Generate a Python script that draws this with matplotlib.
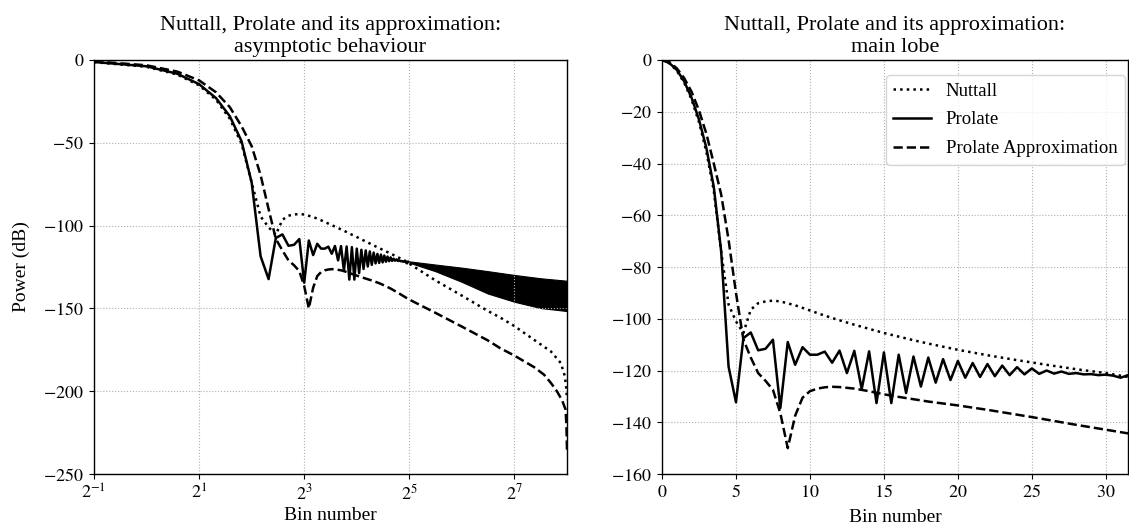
import numpy as np
import matplotlib
matplotlib.use('Agg')
import matplotlib.pyplot as plt
from matplotlib.ticker import NullLocator, FuncFormatter

plt.rcParams['font.family'] = ['Liberation Serif', 'DejaVu Serif']
plt.rcParams['mathtext.fontset'] = 'stix'
plt.rcParams['font.size'] = 13

# prolate window spectrum, half-bin resolution (main lobe + first side lobes)
prolate_bins = [0, 0.5, 1, 1.5, 2, 2.5, 3, 3.5, 4, 4.5, 5, 5.5, 6, 6.5, 7, 7.5,
                8, 8.5, 9, 9.5, 10, 10.5, 11, 11.5, 12, 12.5, 13, 13.5, 14, 14.5, 15, 15.5,
                16, 16.5, 17, 17.5, 18, 18.5, 19, 19.5, 20, 20.5, 21, 21.5, 22, 22.5, 23, 23.5,
                24, 24.5, 25, 25.5, 26, 26.5, 27, 27.5, 28, 28.5, 29, 29.5, 30, 30.5, 31, 31.5]
prolate_db = [0, -1.2, -3.8, -8.3, -14.6, -23, -34, -49, -74, -118.5, -132.3, -107.5, -105.3, -112.2, -111.6, -108.1,
              -134.5, -109, -117.8, -111, -113.9, -113.9, -112.7, -117, -112.3, -121, -112.4, -127.2, -112.6, -132.6, -113, -132.6,
              -113.9, -128.7, -114.6, -126.2, -115, -124.7, -115.6, -123.7, -116.3, -122.8, -117.1, -122.5, -117.5, -122.2, -118.1, -121.8,
              -118.7, -121.5, -119.2, -121.3, -120, -121.2, -120.4, -121.3, -121, -121.5, -121.4, -121.8, -121.6, -122, -122.8, -121.8]

# prolate far side lobes: oscillation too dense to resolve, drawn as its envelope
band_bins = [31.5, 32, 45, 64, 90, 128, 181, 256]
band_upper = [-121.8, -121.6, -123.5, -125.4, -127.5, -129.8, -131.8, -133.3]
band_lower = [-121.8, -122.4, -127.5, -134, -141, -146, -149.8, -151.6]

nuttall_bins = [0, 0.5, 1, 1.5, 2, 2.5, 3, 3.5, 4, 4.5, 5, 5.5, 6, 6.5, 7, 7.5, 8,
                9, 10, 11, 12, 13, 14, 15, 16, 17, 18, 19, 20, 22, 24, 26, 28, 30, 32,
                45, 64, 90, 106, 128, 166, 207, 236, 249, 254, 256]
nuttall_db = [0, -1.3, -4.1, -8.8, -15.3, -24, -35.5, -50.5, -74, -94.5, -101, -105.5, -96.5, -94, -93.3, -93, -93.3,
              -94.8, -96.8, -98.8, -100.6, -102.3, -103.9, -105.5, -106.9, -108.3, -109.6, -110.8, -112, -114.1, -116, -117.8, -119.5, -121, -123,
              -133, -142.3, -151.5, -155.5, -160.7, -169, -176, -183, -191, -199, -205]

approx_bins = [0, 0.5, 1, 1.5, 2, 2.5, 3, 3.5, 4, 4.5, 5, 5.5, 6, 6.5, 7, 7.5, 8, 8.5,
               9, 9.5, 10, 10.5, 11, 11.5, 12, 13, 14, 15, 16, 18, 20, 22, 25, 28, 31.5,
               45, 64, 90, 106, 128, 166, 189, 207, 224, 240, 251, 254, 256]
approx_db = [0, -0.8, -3.2, -7, -12.3, -19.5, -28.5, -40, -52, -69.5, -90, -108, -115, -121, -124, -127.5, -136.5, -150,
             -137.5, -130.5, -128, -127, -126.5, -126.3, -126.4, -127, -128, -129.2, -130.2, -132, -133.5, -135.2, -138, -141, -144.3,
             -152.6, -161, -169.3, -174, -178.5, -185.5, -190, -195, -200, -205.5, -211, -220, -236]

pb, pd = np.array(prolate_bins), np.array(prolate_db)
nb, nd = np.array(nuttall_bins), np.array(nuttall_db)
ab, ad = np.array(approx_bins), np.array(approx_db)

fig = plt.figure(figsize=(11.29, 5.27), dpi=100)
ax1 = fig.add_axes([94/1129, 53/527, 473/1129, 414/527])
ax2 = fig.add_axes([662/1129, 53/527, 466/1129, 414/527])

mathnum = FuncFormatter(lambda v, p: r'$%d$' % round(v))
pow2 = FuncFormatter(lambda v, p: r'$2^{%d}$' % round(np.log2(v)))

lw = 1.8
# left: log axis, skip bin 0
ax1.plot(nb[nb > 0], nd[nb > 0], 'k:', lw=lw)
ax1.plot(pb[pb > 0], pd[pb > 0], 'k-', lw=lw)
ax1.fill_between(band_bins, band_lower, band_upper, color='k', lw=0.8, edgecolor='k')
ax1.plot(ab[ab > 0], ad[ab > 0], 'k--', lw=lw)
ax1.set_xscale('log', base=2)
ax1.set_xticks([0.5, 2, 8, 32, 128])
ax1.xaxis.set_minor_locator(NullLocator())
ax1.xaxis.set_major_formatter(pow2)
ax1.set_xlim(0.5, 256)
ax1.set_ylim(-250, 0)
ax1.set_yticks([0, -50, -100, -150, -200, -250])
ax1.yaxis.set_major_formatter(mathnum)
ax1.set_xlabel('Bin number', fontsize=14, labelpad=2)
ax1.set_ylabel('Power (dB)', fontsize=14, labelpad=10)
ax1.set_title('Nuttall, Prolate and its approximation:\nasymptotic behaviour', fontsize=16)

ax2.plot(nb, nd, 'k:', lw=lw, label='Nuttall')
ax2.plot(pb, pd, 'k-', lw=lw, label='Prolate')
ax2.plot(ab, ad, 'k--', lw=lw, label='Prolate Approximation')
ax2.set_xlim(0, 31.5)
ax2.set_ylim(-160, 0)
ax2.set_xticks([0, 5, 10, 15, 20, 25, 30])
ax2.set_yticks([0, -20, -40, -60, -80, -100, -120, -140, -160])
ax2.xaxis.set_major_formatter(mathnum)
ax2.yaxis.set_major_formatter(mathnum)
ax2.set_xlabel('Bin number', fontsize=14, labelpad=6)
ax2.set_title('Nuttall, Prolate and its approximation:\nmain lobe', fontsize=16)
ax2.legend(loc='upper right', fontsize=13.5, borderaxespad=0, labelspacing=0.62,
           bbox_to_anchor=(1125/1129, 1 - 75/527), bbox_transform=fig.transFigure)

for ax in (ax1, ax2):
    ax.grid(True, ls=':', color='#b0b0b0', lw=0.8)
    ax.tick_params(labelsize=13)
    for s in ax.spines.values():
        s.set_linewidth(1.0)

fig.savefig('out.png', dpi=100)
